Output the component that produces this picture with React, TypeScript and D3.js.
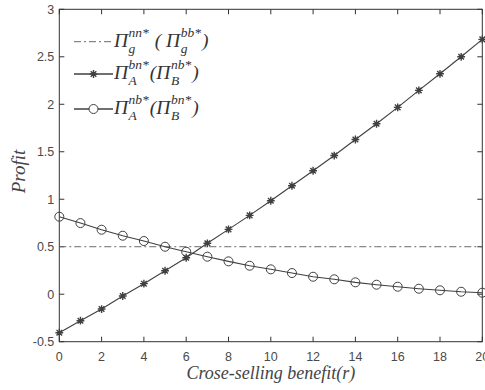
import * as d3 from 'd3';

// crose-selling benefit r
const rValues = [0, 1, 2, 3, 4, 5, 6, 7, 8, 9, 10, 11, 12, 13, 14, 15, 16, 17, 18, 19, 20];
// Pi_g^nn* (Pi_g^bb*)
const gValues = [0.5, 0.5, 0.5, 0.5, 0.5, 0.5, 0.5, 0.5, 0.5, 0.5, 0.5, 0.5, 0.5, 0.5, 0.5, 0.5, 0.5, 0.5, 0.5, 0.5, 0.5];
// Pi_A^bn* (Pi_B^nb*)
const starValues = [-0.405, -0.279, -0.156, -0.019, 0.111, 0.247, 0.384, 0.536, 0.683, 0.83, 0.984, 1.142, 1.3, 1.46, 1.629, 1.795, 1.967, 2.146, 2.321, 2.5, 2.683];
// Pi_A^nb* (Pi_B^bn*)
const circleValues = [0.816, 0.749, 0.679, 0.616, 0.56, 0.5, 0.447, 0.395, 0.346, 0.3, 0.262, 0.223, 0.184, 0.157, 0.125, 0.1, 0.079, 0.058, 0.041, 0.026, 0.016];

const xTicks = [0, 2, 4, 6, 8, 10, 12, 14, 16, 18, 20];
const yTicks = [-0.5, 0, 0.5, 1, 1.5, 2, 2.5, 3];

const legendItems = [
  { kind: 'dashdot', parts: [{ t: 'Π', sup: 'nn*', sub: 'g' }, { t: ' ( ' }, { t: 'Π', sup: 'bb*', sub: 'g' }, { t: ')' }] },
  { kind: 'star', parts: [{ t: 'Π', sup: 'bn*', sub: 'A' }, { t: '(' }, { t: 'Π', sup: 'nb*', sub: 'B' }, { t: ')' }] },
  { kind: 'circle', parts: [{ t: 'Π', sup: 'nb*', sub: 'A' }, { t: '(' }, { t: 'Π', sup: 'bn*', sub: 'B' }, { t: ')' }] },
];

const W = 485;
const H = 390;
const AX = '#333333';
const LINE = '#404040';
const DASH = '#6a6a6a';
const SERIF = "'Liberation Serif'";
const SANS = "'Liberation Sans'";

const left = 59.3, right = 482.3, top = 9.3, bottom = 341.7;
const x = d3.scaleLinear().domain([0, 20]).range([left, right]);
const y = d3.scaleLinear().domain([-0.5, 3]).range([bottom, top]);
const line = d3.line<number>().x((d, i) => x(rValues[i])).y(d => y(d));

const starPath = 'M-3.9,0H3.9M0,-3.9V3.9M-2.8,-2.8L2.8,2.8M-2.8,2.8L2.8,-2.8';

let ctx: CanvasRenderingContext2D | null = null;
function textWidth(s: string, size: number) {
  if (!ctx) ctx = document.createElement('canvas').getContext('2d');
  if (!ctx) return s.length * size * 0.45;
  ctx.font = `italic ${size}px ${SERIF}`;
  return ctx.measureText(s).width;
}

const serif = (size: number) => ({ fontFamily: SERIF, fontStyle: 'italic', fontSize: size, whiteSpace: 'pre' as const });

function LegendText({ parts, x0, base }: { parts: any[]; x0: number; base: number }) {
  let cx = x0;
  const out: any[] = [];
  parts.forEach((p, i) => {
    out.push(<text key={`t${i}`} x={cx} y={base} fill="#333" style={serif(19.5)}>{p.t}</text>);
    cx += textWidth(p.t, 19.5);
    if (p.sup) {
      out.push(<text key={`p${i}`} x={cx + 0.5} y={base - 10} fill="#333" style={serif(13.5)}>{p.sup}</text>);
      out.push(<text key={`b${i}`} x={cx + 0.5} y={base + 6} fill="#333" style={serif(13.5)}>{p.sub}</text>);
      cx += Math.max(textWidth(p.sup, 13.5), textWidth(p.sub, 13.5)) + 1.5;
    }
  });
  return <g>{out}</g>;
}

export default function App() {
  const legY = [41.7, 74, 109];
  const lx0 = 74, lx1 = 113, mx = (lx0 + lx1) / 2;
  const tickFont = { fontFamily: SANS, fontSize: 12.5 };

  return (
    <svg width={W} height={H} style={{ position: 'absolute', left: 0, top: 0, display: 'block' }}>
      <rect width={W} height={H} fill="#fff" />

      {/* inward ticks on all four sides */}
      {xTicks.map(t => (
        <g key={`xt${t}`}>
          <line x1={x(t)} x2={x(t)} y1={bottom} y2={bottom - 5} stroke={AX} />
          <line x1={x(t)} x2={x(t)} y1={top} y2={top + 5} stroke={AX} />
          <text x={x(t)} y={bottom + 19.5} textAnchor="middle" fill="#4a4a4a" style={tickFont}>{String(t)}</text>
        </g>
      ))}
      {yTicks.map(t => (
        <g key={`yt${t}`}>
          <line x1={left} x2={left + 5} y1={y(t)} y2={y(t)} stroke={AX} />
          <line x1={right} x2={right - 5} y1={y(t)} y2={y(t)} stroke={AX} />
          <text x={left - 5} y={y(t) + 4.5} textAnchor="end" fill="#4a4a4a" style={tickFont}>{String(t)}</text>
        </g>
      ))}
      <rect x={left} y={top} width={right - left} height={bottom - top} fill="none" stroke={AX} strokeWidth={1} />

      <path d={line(gValues) || ''} fill="none" stroke={DASH} strokeWidth={1} strokeDasharray="7,3,2,3" />

      <path d={line(starValues) || ''} fill="none" stroke={LINE} strokeWidth={1.1} />
      {starValues.map((v, i) => (
        <path key={`s${i}`} transform={`translate(${x(rValues[i])},${y(v)})`} d={starPath}
          stroke={LINE} strokeWidth={1.4} fill="none" />
      ))}

      <path d={line(circleValues) || ''} fill="none" stroke={LINE} strokeWidth={1.1} />
      {circleValues.map((v, i) => (
        <circle key={`c${i}`} cx={x(rValues[i])} cy={y(v)} r={4.5} fill="none" stroke={LINE} strokeWidth={1} />
      ))}

      {/* legend */}
      {legendItems.map((item, k) => {
        const ly = legY[k];
        return (
          <g key={`lg${k}`}>
            <line x1={lx0} x2={lx1} y1={ly} y2={ly}
              stroke={item.kind === 'dashdot' ? DASH : LINE}
              strokeWidth={item.kind === 'dashdot' ? 1 : 1.4}
              strokeDasharray={item.kind === 'dashdot' ? '7,3,2,3' : undefined} />
            {item.kind === 'star' && (
              <path transform={`translate(${mx},${ly})`} d={starPath} stroke={LINE} strokeWidth={1.4} fill="none" />
            )}
            {item.kind === 'circle' && (
              <circle cx={mx} cy={ly} r={4.5} fill="#fff" stroke={LINE} strokeWidth={1} />
            )}
            <LegendText parts={item.parts} x0={114} base={ly + 5} />
          </g>
        );
      })}

      <text x={(left + right) / 2} y={379} textAnchor="middle" fill="#444" style={serif(18)}>
        Crose-selling benefit(r)
      </text>
      <text transform={`translate(25,${(top + bottom) / 2 - 4}) rotate(-90)`} textAnchor="middle" fill="#444" style={serif(19)}>
        Profit
      </text>
    </svg>
  );
}
